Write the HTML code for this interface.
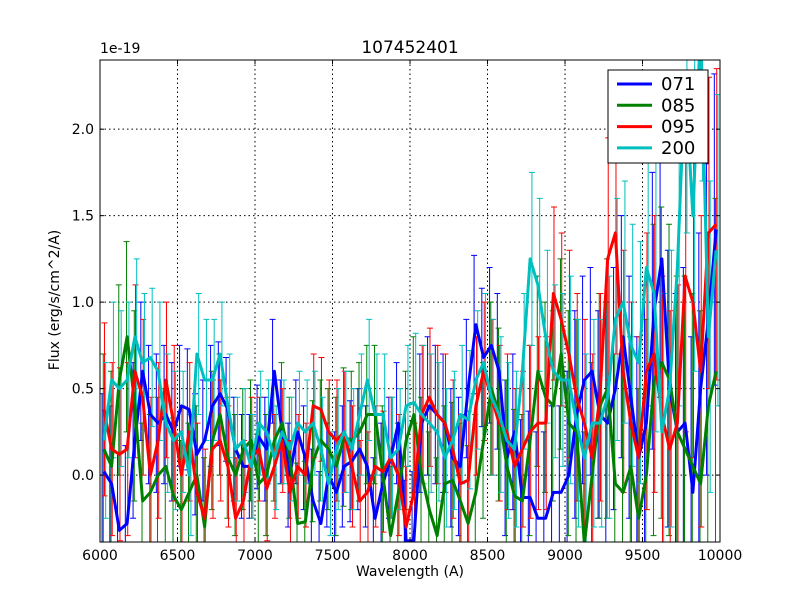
<!DOCTYPE html>
<html><head><meta charset="utf-8"><style>
html,body{margin:0;padding:0;background:#fff;overflow:hidden;width:800px;height:600px}
svg{display:block}
svg text{font-family:"DejaVu Sans","Liberation Sans",sans-serif}
</style></head><body>
<svg id="chart" width="800" height="600">
<defs><clipPath id="pc"><rect x="100" y="60" width="620" height="482"/></clipPath></defs>
<rect width="800" height="600" fill="#fff"/>
<g id="grid"></g>
<g id="series" clip-path="url(#pc)"></g>
<rect x="100" y="60" width="620" height="482" fill="none" stroke="#000"/>
<g id="ticks"></g>
<text x="410" y="53" font-size="17" text-anchor="middle">107452401</text>
<text x="100" y="53" font-size="14">1e-19</text>
<text x="410" y="576" font-size="14" text-anchor="middle">Wavelength (A)</text>
<text x="59" y="300" font-size="14" text-anchor="middle" transform="rotate(-90 59 300)">Flux (erg/s/cm^2/A)</text>
<g id="legend"></g>
</svg>
<script>
const wavelengths=[6025,6075,6125,6175,6225,6275,6325,6375,6425,6475,6525,6575,6625,6675,6725,6775,6825,6875,6925,6975,7025,7075,7125,7175,7225,7275,7325,7375,7425,7475,7525,7575,7625,7675,7725,7775,7825,7875,7925,7975,8025,8075,8125,8175,8225,8275,8325,8375,8425,8475,8525,8575,8625,8675,8725,8775,8825,8875,8925,8975,9025,9075,9125,9175,9225,9275,9325,9375,9425,9475,9525,9575,9625,9675,9725,9775,9825,9875,9925,9975];
const seriesNames=["071","085","095","200"];
const flux071=[0.02,-0.05,-0.32,-0.28,0.2,0.6,0.35,0.3,0.35,0.25,0.4,0.38,0.12,0.2,0.4,0.47,0.38,0.15,0.05,0.05,0.22,0.15,0.6,0.25,0.0,0.25,0.1,-0.15,-0.28,0.0,-0.1,0.05,0.08,0.15,0.05,-0.25,-0.05,0.1,0.3,-0.38,-0.38,0.3,0.4,0.35,0.3,0.1,0.05,0.5,0.87,0.68,0.75,0.6,0.1,0.25,-0.13,-0.13,-0.25,-0.25,-0.1,-0.1,0.0,0.35,0.55,0.6,0.35,0.3,0.5,0.8,0.45,0.1,0.3,0.95,1.25,0.5,0.25,0.3,-0.1,0.5,0.9,1.42];
const flux085=[0.15,0.05,0.55,0.8,0.4,-0.15,-0.1,0.0,0.05,-0.12,-0.2,-0.1,0.0,-0.3,0.2,0.35,0.1,0.0,0.15,0.2,-0.05,0.0,0.2,0.3,0.1,-0.28,-0.27,0.08,0.2,0.15,0.05,0.22,0.2,0.25,0.35,0.35,0.0,-0.35,-0.1,0.2,0.35,0.0,-0.2,-0.35,-0.05,-0.03,-0.15,-0.28,-0.1,0.2,0.5,0.35,0.05,-0.12,-0.15,0.2,0.6,0.45,0.4,0.7,0.3,0.25,-0.4,0.0,0.4,0.5,-0.05,-0.1,0.05,-0.25,0.0,0.55,0.65,0.55,0.25,0.15,0.05,-0.05,0.4,0.6];
const flux095=[0.38,0.15,0.12,0.15,0.6,0.45,0.0,0.2,0.55,0.3,0.0,0.25,-0.1,-0.25,0.15,0.2,0.05,-0.25,-0.15,0.1,0.15,-0.08,0.05,0.2,-0.1,0.05,0.0,0.4,0.38,0.25,0.2,0.25,0.05,-0.15,-0.1,0.05,0.02,0.1,0.0,-0.3,-0.1,0.35,0.45,0.35,0.3,0.15,-0.05,-0.03,0.4,0.6,0.45,0.3,0.25,0.05,0.15,0.25,0.3,0.3,1.05,0.9,0.7,0.45,0.3,0.1,0.45,1.25,1.4,0.6,0.3,0.1,0.6,0.7,0.35,0.15,0.3,1.15,1.0,0.6,1.4,1.45];
const flux200=[0.2,0.55,0.5,0.55,0.8,0.65,0.68,0.6,0.3,0.2,0.25,0.0,0.7,0.55,0.55,0.7,0.4,0.15,0.2,0.05,0.3,0.25,0.1,0.25,0.15,0.3,0.25,0.3,0.15,-0.05,0.15,0.25,0.15,0.35,0.55,0.35,0.35,0.1,0.15,0.4,0.42,0.35,0.3,0.25,0.1,0.2,0.35,0.32,0.55,0.65,0.45,0.35,0.2,0.15,0.6,1.25,1.1,0.8,0.6,0.55,0.55,0.3,0.1,0.3,0.3,0.45,0.9,1.0,0.75,0.65,1.2,1.05,0.25,0.5,1.2,2.3,1.5,2.6,0.8,1.3];
const err071=[0.45,0.4,0.35,0.3,0.3,0.3,0.35,0.35,0.4,0.4,0.45,0.5,0.6,0.7,0.8,0.9];
const err085=[0.55,0.45,0.4,0.35,0.35,0.35,0.4,0.4,0.45,0.45,0.5,0.55,0.65,0.75,0.9,1.0];
const err095=[0.5,0.45,0.4,0.35,0.3,0.3,0.35,0.35,0.4,0.4,0.45,0.5,0.6,0.7,0.8,0.9];
const err200=[0.45,0.4,0.35,0.3,0.3,0.3,0.35,0.35,0.4,0.4,0.45,0.5,0.6,0.7,0.8,0.9];
const xTicks=[6000,6500,7000,7500,8000,8500,9000,9500,10000];
const yTicks=[0.0,0.5,1.0,1.5,2.0];
const yTickLabels=["0.0","0.5","1.0","1.5","2.0"];

const NS="http://www.w3.org/2000/svg";
const X0=100,X1=720,Y0=60,Y1=542,XMIN=6000,XMAX=10000,YMIN=-0.387,YMAX=2.4;
function sx(v){return X0+(v-XMIN)/(XMAX-XMIN)*(X1-X0);}
function sy(v){return Y1-(v-YMIN)/(YMAX-YMIN)*(Y1-Y0);}
function syc(v){return Math.max(Y0,Math.min(Y1,sy(v)));}
function mk(tag,attrs,parent){const e=document.createElementNS(NS,tag);for(const k in attrs)e.setAttribute(k,attrs[k]);parent.appendChild(e);return e;}
const grid=document.getElementById('grid'),ticks=document.getElementById('ticks'),ser=document.getElementById('series'),leg=document.getElementById('legend');
xTicks.forEach((t,i)=>{const x=sx(t);
 if(i>0&&i<xTicks.length-1){const l=mk('line',{x1:x,x2:x,y1:Y0,y2:Y1,stroke:'#000','stroke-dasharray':'1.5,3'},grid);
 
 }
 mk('line',{x1:x,x2:x,y1:Y1,y2:Y1-4,stroke:'#000'},ticks);mk('line',{x1:x,x2:x,y1:Y0,y2:Y0+4,stroke:'#000'},ticks);
 const tx=mk('text',{x:x,y:Y1+18,'font-size':14,'text-anchor':'middle'},ticks);tx.textContent=t;
 
 });
yTicks.forEach((t,i)=>{const y=sy(t);
 const l=mk('line',{x1:X0,x2:X1,y1:y,y2:y,stroke:'#000','stroke-dasharray':'1.5,3'},grid);
 
 
 mk('line',{x1:X0,x2:X0+4,y1:y,y2:y,stroke:'#000'},ticks);mk('line',{x1:X1,x2:X1-4,y1:y,y2:y,stroke:'#000'},ticks);
 const tx=mk('text',{x:X0-6,y:y+5,'font-size':14,'text-anchor':'end'},ticks);tx.textContent=yTickLabels[i];
 
 });
const data=[flux071,flux085,flux095,flux200],errs=[err071,err085,err095,err200],cols=['#0000ff','#008000','#ff0000','#00bfbf'];
data.forEach((d,s)=>{const g=mk('g',{},ser);
 
 
 d.forEach((v,i)=>{const e=errs[s][Math.floor(i/5)],x=sx(wavelengths[i])+(s-1.5)*1.2;
  const lo=sy(v-e),hi=sy(v+e);
  let p=`M${x},${syc(v-e)}V${syc(v+e)}`;
  if(lo<=Y1&&lo>=Y0)p+=`M${x-3},${lo}h6`;
  if(hi>=Y0&&hi<=Y1)p+=`M${x-3},${hi}h6`;
  const b=mk('path',{d:p,stroke:cols[s],'stroke-width':1,fill:'none'},g);
  
  });});
data.forEach((d,s)=>{const p=mk('polyline',{points:d.map((v,i)=>sx(wavelengths[i])+','+sy(v)).join(' '),fill:'none',stroke:cols[s],'stroke-width':3,'stroke-linejoin':'round'},ser);
 
 });
const box=mk('rect',{x:608,y:70,width:100,height:93,fill:'#fff',stroke:'#000'},leg);


seriesNames.forEach((n,i)=>{const y=84+i*21.3;const g=mk('g',{},leg);
 
 
 mk('line',{x1:617,x2:652,y1:y,y2:y,stroke:cols[i],'stroke-width':3},g);
 const t=mk('text',{x:661,y:y+6,'font-size':18},g);t.textContent=n;});
</script>
</body></html>
